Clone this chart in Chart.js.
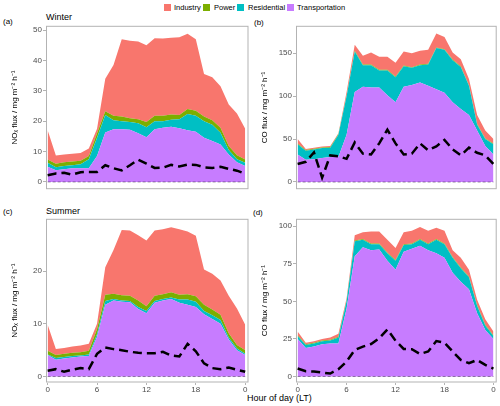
<!DOCTYPE html>
<html>
<head>
<meta charset="utf-8">
<script src="https://cdn.jsdelivr.net/npm/chart.js@4.4.1/dist/chart.umd.min.js"></script>
<style>
  body { margin: 0; background: #fff; font-family: "Liberation Sans", Arial, sans-serif; }
  #fig { position: relative; width: 500px; height: 406px; overflow: hidden; }
  canvas { position: absolute; }
  .txt { position: absolute; white-space: nowrap; color: #000; line-height: 1; }
  .sw { position: absolute; width: 7px; height: 7px; }
</style>
</head>
<body>
<div id="fig">
  <div class="sw" style="left:164px;top:4px;background:#F8766D"></div>
  <div class="txt" style="left:174px;top:3.5px;font-size:7.5px">Industry</div>
  <div class="sw" style="left:203px;top:4px;background:#7CAE00"></div>
  <div class="txt" style="left:214px;top:3.5px;font-size:7.5px">Power</div>
  <div class="sw" style="left:237px;top:4px;background:#00BFC4"></div>
  <div class="txt" style="left:248px;top:3.5px;font-size:7.5px">Residential</div>
  <div class="sw" style="left:287px;top:4px;background:#C77CFF"></div>
  <div class="txt" style="left:297px;top:3.5px;font-size:7.5px">Transportation</div>

  <div class="txt" style="left:3px;top:18px;font-size:8px">(a)</div>
  <div class="txt" style="left:46px;top:13px;font-size:9px">Winter</div>
  <div class="txt" style="left:254px;top:19px;font-size:8px">(b)</div>
  <div class="txt" style="left:3px;top:208px;font-size:8px">(c)</div>
  <div class="txt" style="left:46px;top:207px;font-size:9px">Summer</div>
  <div class="txt" style="left:253px;top:209px;font-size:8px">(d)</div>
  <div class="txt" style="left:247px;top:394px;font-size:9px">Hour of day (LT)</div>

  <canvas id="winterNox" width="250" height="175" style="left:0;top:20px"></canvas>
  <canvas id="winterCo" width="250" height="175" style="left:250px;top:20px"></canvas>
  <canvas id="summerNox" width="250" height="193" style="left:0;top:213px"></canvas>
  <canvas id="summerCo" width="250" height="193" style="left:250px;top:213px"></canvas>
</div>
<script>
const hours = [0, 1, 2, 3, 4, 5, 6, 7, 8, 9, 10, 11, 12, 13, 14, 15, 16, 17, 18, 19, 20, 21, 22, 23, 24];
const xTicks = [0, 6, 12, 18, 24];
const xTickLabels = ['0', '6', '12', '18', '0'];

// Winter NOx (a)
const winterNoxTransport = [5.0, 3.8, 4.2, 4.5, 4.5, 4.5, 8.5, 16.3, 17.3, 17.3, 17.2, 16.0, 14.7, 17.3, 17.8, 18.2, 17.7, 17.0, 16.5, 14.5, 13.5, 12.3, 9.0, 6.5, 5.2];
const winterNoxResidential = [1.3, 1.0, 1.0, 1.0, 1.3, 3.0, 6.0, 5.7, 3.0, 2.7, 2.5, 3.3, 3.3, 2.7, 2.2, 2.3, 2.9, 5.4, 5.3, 5.5, 5.3, 3.9, 1.5, 1.0, 1.1];
const winterNoxPower = [1.1, 1.2, 1.3, 1.2, 1.2, 1.0, 1.5, 1.3, 1.5, 1.5, 1.3, 1.3, 1.7, 1.8, 1.8, 1.7, 1.4, 1.6, 1.6, 1.5, 1.5, 1.6, 1.3, 1.3, 1.1];
const winterNoxIndustry = [9.6, 2.7, 2.5, 2.6, 2.5, 2.5, 1.5, 10.7, 16.7, 25.5, 25.5, 25.6, 25.3, 25.5, 25.4, 25.3, 25.6, 24.8, 23.6, 14.0, 14.2, 13.7, 13.7, 13.7, 10.1];
const winterNoxObs = [2.2, 2.8, 3.0, 2.4, 3.2, 3.3, 3.3, 5.5, 4.5, 3.8, 5.5, 7.3, 6.0, 4.6, 4.7, 5.6, 5.1, 5.7, 5.6, 4.8, 4.6, 5.0, 4.3, 3.7, 2.7];
const winterNoxTicks = [0, 10, 20, 30, 40, 50];

// Winter CO (b)
const winterCoTransport = [32, 26, 26.5, 28, 29, 29, 55, 105, 111, 110, 110, 101, 93, 111, 113, 116, 112, 108, 104, 93, 85, 78, 60, 42, 32];
const winterCoResidential = [12, 10.5, 11.5, 11.5, 11, 26, 45, 47, 25, 26, 20, 29, 29, 24, 20, 20, 25, 48, 50, 49, 49, 34, 7, 8, 12];
const winterCoPower = [0.8, 0.8, 0.8, 0.8, 0.8, 0.8, 0.8, 0.8, 0.8, 0.8, 0.8, 0.8, 0.8, 0.8, 0.8, 0.8, 0.8, 0.8, 0.8, 0.8, 0.8, 0.8, 0.8, 0.8, 0.8];
const winterCoIndustry = [5.2, 1.0, 1.0, 1.0, 1.0, 1.0, 4.2, 7.2, 10.2, 14.2, 15.2, 15.2, 16.2, 16.2, 16.2, 16.2, 16.2, 16.2, 14.2, 8.2, 8.2, 7.2, 10.2, 9.2, 5.2];
const winterCoObs = [21, 23.5, 34.5, 5, 31, 30, 27, 46, 33, 32, 45, 61, 45, 32, 33, 45, 37, 41.5, 49, 38, 31, 40, 34, 31, 21];
const winterCoTicks = [0, 50, 100, 150];

// Summer NOx (c)
const summerNoxTransport = [4.1, 3.2, 3.4, 3.6, 3.8, 3.9, 7.5, 13.6, 14.4, 14.2, 14.1, 12.8, 12.0, 14.0, 14.4, 14.7, 14.0, 13.6, 13.2, 11.8, 10.9, 10.0, 7.0, 5.0, 4.1];
const summerNoxResidential = [0.1, 0.3, 0.3, 0.3, 0.2, 0.3, 0.5, 0.7, 0.3, 0.2, 0.2, 0.4, 0.4, 0.3, 0.3, 0.3, 0.6, 1.0, 1.0, 0.6, 0.7, 0.7, 0.4, 0.3, 0.2];
const summerNoxPower = [0.7, 0.6, 0.6, 0.6, 0.6, 0.7, 1.0, 1.2, 1.0, 1.0, 1.0, 1.2, 0.9, 1.0, 0.9, 1.0, 0.9, 1.0, 1.0, 1.2, 1.1, 1.0, 0.8, 0.7, 0.7];
const summerNoxIndustry = [4.9, 1.1, 1.1, 1.2, 1.3, 1.3, 1.0, 5.2, 8.3, 12.4, 12.4, 12.4, 12.5, 12.4, 12.3, 12.3, 12.4, 11.9, 11.5, 6.7, 6.8, 6.5, 7.1, 6.9, 4.8];
const summerNoxObs = [1.1, 1.4, 0.9, 1.3, 1.6, 1.4, 4.3, 5.5, 5.2, 5.0, 4.7, 4.5, 4.4, 4.4, 4.7, 4.0, 3.8, 6.2, 4.8, 2.5, 1.6, 1.4, 1.7, 1.3, 0.9];
const summerNoxTicks = [0, 10, 20];

// Summer CO (d)
const summerCoTransport = [25, 19, 20, 21.5, 22, 22, 45, 80, 86, 84, 84.5, 77, 71, 83, 85, 87, 84, 82, 79, 69, 63, 58, 42, 31, 25];
const summerCoResidential = [2, 2, 2, 2, 2, 4, 5, 10, 5, 4, 3.5, 5, 6, 4.5, 3, 4, 4, 9, 9, 10, 9, 8, 5, 3, 2];
const summerCoPower = [0.5, 0.5, 0.5, 0.5, 0.5, 0.5, 0.5, 0.5, 0.5, 0.5, 0.5, 0.5, 0.5, 0.5, 0.5, 0.5, 0.5, 0.5, 0.5, 0.5, 0.5, 0.5, 0.5, 0.5, 0.5];
const summerCoIndustry = [2.5, 1, 1, 1, 1.5, 2, 1.5, 3.5, 4.5, 8, 8, 8.5, 8, 8, 8.5, 8, 8.5, 7.5, 8.5, 4.5, 6.5, 4.5, 3.5, 3.5, 2.5];
const summerCoObs = [5.3, 3.5, 3.3, 2.6, 2.0, 4.9, 9.9, 17.7, 19.9, 21.6, 25.4, 31.3, 23.8, 18.3, 18.1, 15, 16.6, 23.6, 22.5, 16.6, 11, 8.8, 11, 7.7, 5.3];
const summerCoTicks = [0, 25, 50, 75, 100];

const FONT = '"Liberation Sans", Arial, sans-serif';
const pts = arr => hours.map((h, i) => ({ x: h, y: arr[i] }));

const panelFrame = {
  id: 'panelFrame',
  afterDatasetsDraw(chart) {
    const { ctx, chartArea: a, scales: { x, y } } = chart;
    ctx.save();
    const y0 = y.getPixelForValue(0);
    ctx.strokeStyle = 'rgba(90,70,110,0.8)';
    ctx.lineWidth = 0.8;
    ctx.setLineDash([3, 2]);
    ctx.beginPath();
    ctx.moveTo(x.getPixelForValue(0), y0);
    ctx.lineTo(x.getPixelForValue(24), y0);
    ctx.stroke();
    ctx.setLineDash([]);
    ctx.strokeStyle = '#b3b3b3';
    ctx.lineWidth = 1;
    ctx.strokeRect(a.left + 0.5, a.top + 0.5, a.width - 1, a.height - 1);
    ctx.restore();
  }
};

function makePanel(id, series, yMin, yMax, yTicks, yTitle, bottomRow, padRight) {
  const canvas = document.getElementById(id);
  const areaH = bottomRow ? 164.5 : 165;
  const xAxisH = canvas.height - 5 - areaH;
  const area = (label, data, color, fill) => ({
    label, data: pts(data), backgroundColor: color, borderWidth: 0,
    pointRadius: 0, fill, stack: 'src', order: 2
  });
  new Chart(canvas, {
    type: 'line',
    data: {
      datasets: [
        area('Transportation', series[0], '#C77CFF', 'origin'),
        area('Residential', series[1], '#00BFC4', '-1'),
        area('Power', series[2], '#7CAE00', '-1'),
        area('Industry', series[3], '#F8766D', '-1'),
        {
          label: 'Observed', data: pts(series[4]), borderColor: '#000', borderWidth: 2.5,
          borderDash: [9, 5], pointRadius: 0, fill: false, stack: 'obs', order: 1
        }
      ]
    },
    options: {
      responsive: false,
      animation: false,
      devicePixelRatio: 1,
      layout: { padding: { top: 5, right: padRight, left: 0, bottom: 0 } },
      plugins: { legend: { display: false }, tooltip: { enabled: false } },
      scales: {
        x: {
          type: 'linear', min: -0.2, max: 24.4,
          afterBuildTicks: s => { s.ticks = xTicks.map(v => ({ value: v })); },
          afterFit: s => { s.height = xAxisH; },
          border: { display: false },
          grid: { display: bottomRow, drawOnChartArea: false, tickLength: 2.5, color: '#b3b3b3' },
          ticks: {
            display: bottomRow, padding: 0, color: '#4d4d4d', font: { family: FONT, size: 8 },
            maxRotation: 0, callback: (v, i) => xTickLabels[i]
          }
        },
        y: {
          type: 'linear', stacked: true, min: yMin, max: yMax,
          afterBuildTicks: s => { s.ticks = yTicks.map(v => ({ value: v })); },
          afterFit: s => { s.width = 46; },
          border: { display: false },
          grid: { drawOnChartArea: false, tickLength: 3, color: '#b3b3b3' },
          ticks: { padding: 1, color: '#4d4d4d', font: { family: FONT, size: 8 } },
          title: {
            display: true, text: yTitle, color: '#000',
            font: { family: FONT, size: 8 }, padding: { top: 10, bottom: 0 }
          }
        }
      }
    },
    plugins: [panelFrame]
  });
}

const noxTitle = 'NOₓ flux / mg m⁻² h⁻¹';
const coTitle = 'CO flux / mg m⁻² h⁻¹';

makePanel('winterNox', [winterNoxTransport, winterNoxResidential, winterNoxPower, winterNoxIndustry, winterNoxObs],
  -2.4, 51.4, winterNoxTicks, noxTitle, false, 1.5);
makePanel('winterCo', [winterCoTransport, winterCoResidential, winterCoPower, winterCoIndustry, winterCoObs],
  -8.4, 182, winterCoTicks, coTitle, false, 3.3);
makePanel('summerNox', [summerNoxTransport, summerNoxResidential, summerNoxPower, summerNoxIndustry, summerNoxObs],
  -1.13, 29.9, summerNoxTicks, noxTitle, true, 1.5);
makePanel('summerCo', [summerCoTransport, summerCoResidential, summerCoPower, summerCoIndustry, summerCoObs],
  -4.0, 104.9, summerCoTicks, coTitle, true, 3.3);
</script>
</body>
</html>
